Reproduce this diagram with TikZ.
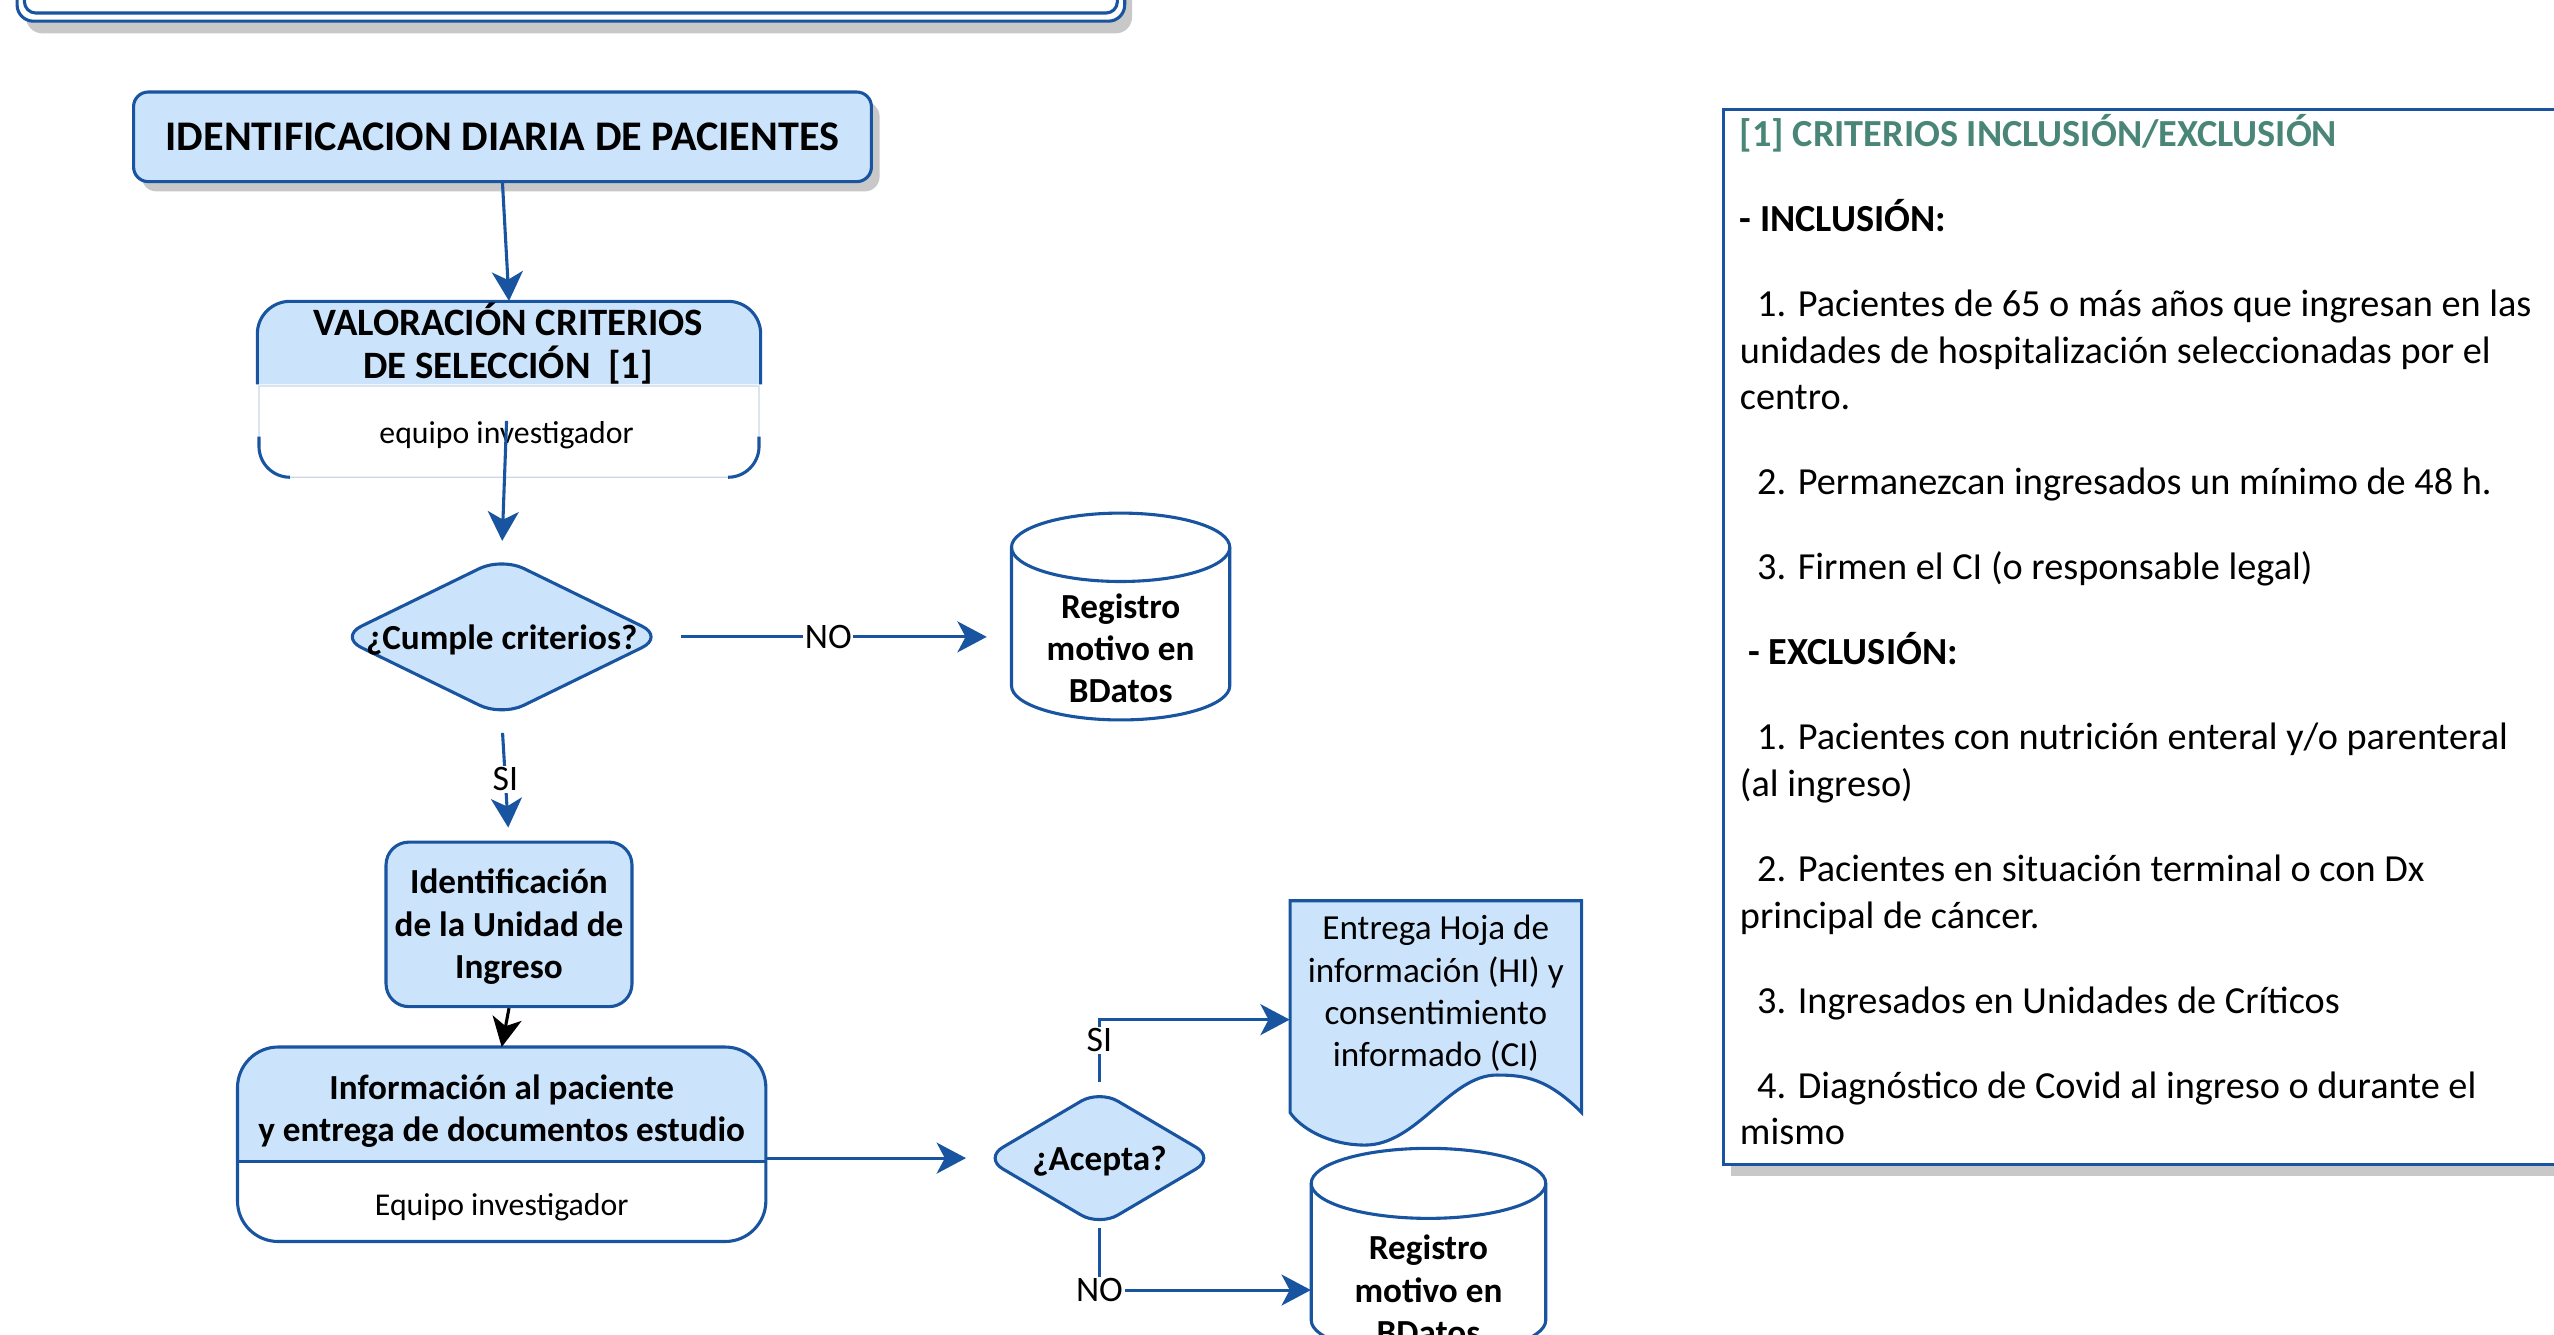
\documentclass[tikz,border=0pt]{standalone}
\usepackage{fontspec}
\setmainfont{Carlito}
\usetikzlibrary{arrows.meta,shapes.geometric,shadows}

\definecolor{flowblue}{RGB}{24,84,160}
\definecolor{flowfill}{RGB}{204,228,251}
\definecolor{flowshadow}{RGB}{200,200,200}
\definecolor{flowfaint}{RGB}{200,215,235}
\definecolor{flowteal}{RGB}{74,134,120}

\begin{document}
\begin{tikzpicture}
  \tikzset{
    flowline/.style={draw=flowblue, line width=1.9pt},
    flowarrow/.style={flowblue, line width=1.9pt, -{Stealth[length=18pt,width=19pt,inset=5pt]}},
    blackarrow/.style={black, line width=1.9pt, -{Stealth[length=18pt,width=18pt,inset=5pt]}},
    procbox/.style={rectangle, flowline, fill=flowfill, align=center},
    boldtxt/.style={inner sep=0pt, align=center, font=\bfseries\fontsize{21.6}{26}\selectfont},
    plaintxt/.style={inner sep=0pt, align=center, font=\fontsize{19.5}{26}\selectfont},
    answer/.style={fill=white, text=black, inner sep=1pt, font=\fontsize{22}{24}\selectfont},
    decision/.style={diamond, flowline, fill=flowfill, rounded corners=15pt, inner sep=0pt},
    holder/.style={rectangle, inner sep=0pt}
  }
  \useasboundingbox (0pt,0pt) rectangle (1568pt,-819pt);

  % banner (cut at the top)
  \fill[flowshadow, rounded corners=10pt] (16pt,30pt) rectangle (695pt,-20.5pt);
  \draw[flowline, fill=white, rounded corners=10pt] (10.5pt,30pt) rectangle (690.5pt,-13pt);
  \draw[flowline, rounded corners=7pt] (15pt,30pt) rectangle (686pt,-8pt);

  \node[procbox, rounded corners=9pt, minimum width=453pt, minimum height=55pt,
        font=\bfseries\fontsize{25.9}{30}\selectfont,
        drop shadow={shadow xshift=5pt, shadow yshift=-6pt, fill=flowshadow, opacity=1}]
        (ident) at (308.5pt,-84pt) {IDENTIFICACION DIARIA DE PACIENTES};

  % valoracion box
  \node[holder, minimum width=309pt, minimum height=108pt] (valor) at (312.5pt,-239pt) {};
  \fill[flowfill] (158pt,-236pt) -- (158pt,-205pt) arc[start angle=180, end angle=90, radius=20pt]
    -- (447pt,-185pt) arc[start angle=90, end angle=0, radius=20pt] -- (467pt,-236pt) -- cycle;
  \draw[flowfaint, line width=0.8pt] (159pt,-237pt) -- (159pt,-274pt) arc[start angle=180, end angle=270, radius=19pt]
    -- (447pt,-293pt) arc[start angle=270, end angle=360, radius=19pt] -- (466pt,-237pt) -- cycle;
  \draw[flowline] (158pt,-236pt) -- (158pt,-205pt) arc[start angle=180, end angle=90, radius=20pt]
    -- (447pt,-185pt) arc[start angle=90, end angle=0, radius=20pt] -- (467pt,-236pt);
  \draw[flowline] (159pt,-268pt) -- (159pt,-274pt) arc[start angle=180, end angle=270, radius=19pt];
  \draw[flowline] (447pt,-293pt) arc[start angle=270, end angle=360, radius=19pt] -- (466pt,-268pt);
  \node[boldtxt, font=\bfseries\fontsize{23.8}{26}\selectfont] (valortxt) at (312pt,-211pt) {VALORACIÓN CRITERIOS\\DE SELECCIÓN\ \ [1]};
  \node[plaintxt] (valorsub) at (311pt,-267pt) {equipo investigador};

  \node[decision, minimum width=200pt, minimum height=98pt] (cumple) at (308pt,-391pt) {};
  \node[boldtxt] (cumpletxt) at ([yshift=-2pt]cumple.center) {¿Cumple criterios?};

  % first database
  \node[holder, minimum width=134pt, minimum height=127pt] (reg1) at (688pt,-378.5pt) {};
  \draw[flowline, fill=white] (621pt,-336pt) -- (621pt,-421pt)
    arc[start angle=180, end angle=360, x radius=67pt, y radius=21pt] -- (755pt,-336pt)
    arc[start angle=0, end angle=180, x radius=67pt, y radius=21pt] -- cycle;
  \draw[flowline] (621pt,-336pt) arc[start angle=180, end angle=360, x radius=67pt, y radius=21pt];
  \node[boldtxt] (reg1txt) at (688pt,-398pt) {Registro\\motivo en\\BDatos};

  \node[procbox, rounded corners=14pt, minimum width=151pt, minimum height=101pt] (identif) at (312.5pt,-567.5pt) {};
  \node[boldtxt] (identiftxt) at (312.5pt,-569pt) {Identificación\\de la Unidad de\\Ingreso};

  % informacion box
  \node[holder, minimum width=324pt, minimum height=119pt] (info) at (308pt,-702.5pt) {};
  \fill[flowfill] (146pt,-713pt) -- (146pt,-668pt) arc[start angle=180, end angle=90, radius=25pt]
    -- (445pt,-643pt) arc[start angle=90, end angle=0, radius=25pt] -- (470pt,-713pt) -- cycle;
  \draw[flowline, rounded corners=25pt] (info.north west) rectangle (info.south east);
  \draw[flowline] (146pt,-713pt) -- (470pt,-713pt);
  \node[boldtxt] (infotxt) at (308pt,-682pt) {Información al paciente\\y entrega de documentos estudio};
  \node[plaintxt] (infosub) at (308pt,-741pt) {Equipo investigador};

  \node[decision, minimum width=142pt, minimum height=84pt, rounded corners=13pt] (acepta) at (675pt,-711pt) {};
  \node[boldtxt] (aceptatxt) at ([yshift=-2pt]acepta.center) {¿Acepta?};

  % document shape
  \node[holder, minimum width=179pt, minimum height=146pt] (doc) at (881.5pt,-626pt) {};
  \draw[flowline, fill=flowfill] (792pt,-553pt) -- (971pt,-553pt) -- (971pt,-683pt)
    .. controls (950pt,-662pt) and (936pt,-660pt) .. (919pt,-660pt)
    .. controls (890pt,-660pt) and (870pt,-703pt) .. (838pt,-703pt)
    .. controls (815pt,-703pt) and (798pt,-692pt) .. (792pt,-683pt) -- cycle;
  \node[plaintxt, font=\fontsize{21.6}{26}\selectfont] (doctxt) at (881.5pt,-610pt) {Entrega Hoja de\\información (HI) y\\consentimiento\\informado (CI)};

  % second database
  \node[holder, minimum width=144pt, minimum height=127pt] (reg2) at (877pt,-768.5pt) {};
  \draw[flowline, fill=white] (805pt,-726.5pt) -- (805pt,-810.5pt)
    arc[start angle=180, end angle=360, x radius=72pt, y radius=21.5pt] -- (949pt,-726.5pt)
    arc[start angle=0, end angle=180, x radius=72pt, y radius=21.5pt] -- cycle;
  \draw[flowline] (805pt,-726.5pt) arc[start angle=180, end angle=360, x radius=72pt, y radius=21.5pt];
  \node[boldtxt] (reg2txt) at (877pt,-792pt) {Registro\\motivo en\\BDatos};

  % criteria panel
  \fill[flowshadow] (1063pt,-73pt) rectangle (1580pt,-722pt);
  \draw[flowline, fill=white] (1058pt,-67pt) rectangle (1580pt,-715pt);
  \node[anchor=north west, inner sep=0pt, align=left, font=\fontsize{23.5}{28.6}\selectfont]
    (criterios) at (1068pt,-70pt) {%
    \textcolor{flowteal}{\bfseries [1] CRITERIOS INCLUSIÓN/EXCLUSIÓN}\\[23.6pt]
    \textbf{- INCLUSIÓN:}\\[23.6pt]
    \hspace*{10.6pt}1. Pacientes de 65 o más años que ingresan en las\\
    unidades de hospitalización seleccionadas por el\\
    centro.\\[23.6pt]
    \hspace*{10.6pt}2. Permanezcan ingresados un mínimo de 48 h.\\[23.6pt]
    \hspace*{10.6pt}3. Firmen el CI (o responsable legal)\\[23.6pt]
    \hspace*{5.3pt}\textbf{- EXCLUSIÓN:}\\[23.6pt]
    \hspace*{10.6pt}1. Pacientes con nutrición enteral y/o parenteral\\
    (al ingreso)\\[23.6pt]
    \hspace*{10.6pt}2. Pacientes en situación terminal o con Dx\\
    principal de cáncer.\\[23.6pt]
    \hspace*{10.6pt}3. Ingresados en Unidades de Críticos\\[23.6pt]
    \hspace*{10.6pt}4. Diagnóstico de Covid al ingreso o durante el\\
    mismo};

  % connectors
  \draw[flowarrow] (ident.south) -- (valor.north);
  \draw[flowarrow, shorten >=9pt] (valorsub.north) -- (cumple.north);
  \draw[flowarrow, shorten <=9pt, shorten >=15pt] (cumple.east) -- node[answer, pos=0.47] (no1) {NO} (cumple.east -| reg1.west);
  \draw[flowarrow, shorten <=9pt, shorten >=8pt] (cumple.south) -- node[answer] (si1) {SI} (identif.north);
  \draw[blackarrow] (identif.south) -- (info.north);
  \draw[flowarrow, shorten >=10pt] (info.east |- acepta.west) -- (acepta.west);
  \draw[flowarrow, shorten <=4pt] (acepta.north) |- node[answer, pos=0.35] (si2) {SI} (doc.west);
  \draw[flowarrow] (acepta.south) |- node[answer] (no2) {NO} (reg2txt.west -| reg2.west);
\end{tikzpicture}
\end{document}
